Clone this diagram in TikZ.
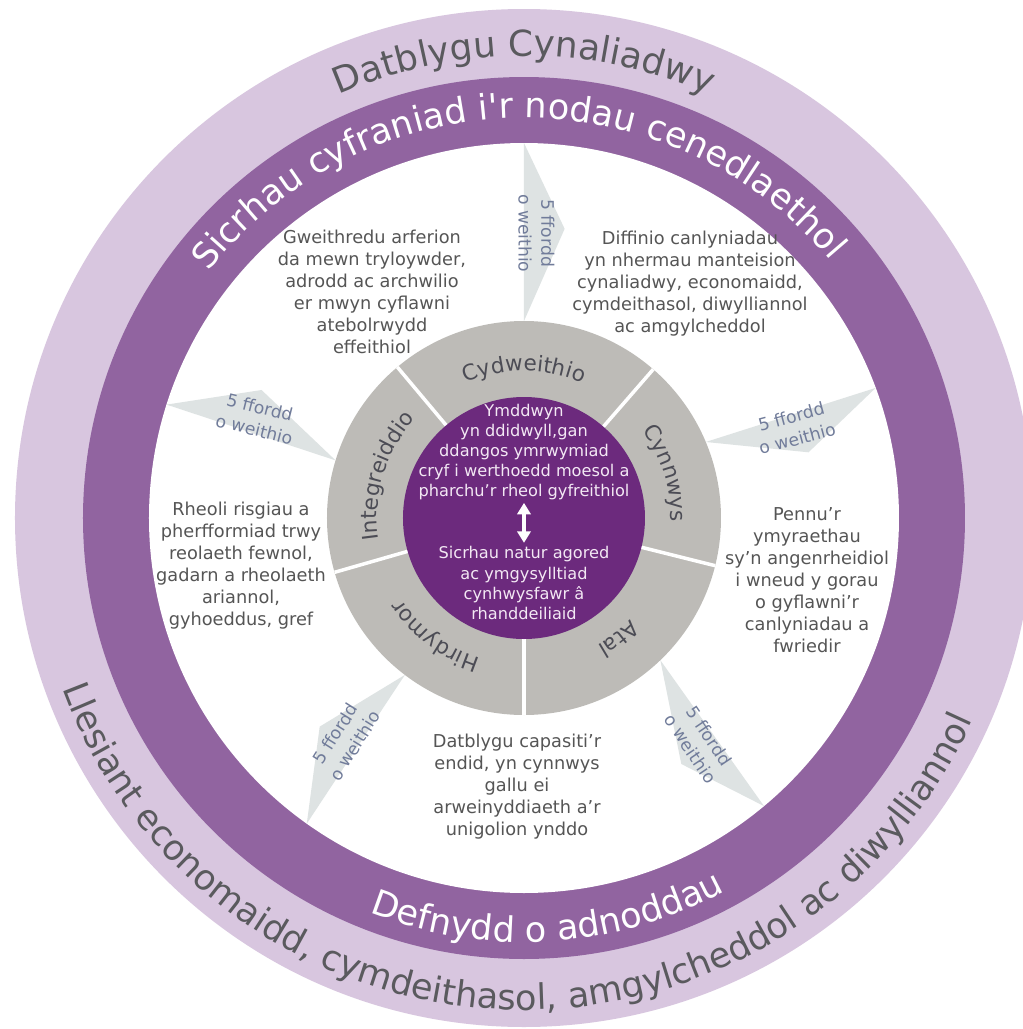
\documentclass[tikz,border=0pt]{standalone}
\usepackage{fontspec}
\setmainfont{DejaVu Sans}
\newfontfamily\ringfont{DejaVu Sans}
\usepackage{tikz}
\usetikzlibrary{arrows.meta,decorations.text}

\definecolor{lilacpale}{HTML}{D8C6DF}
\definecolor{lilacmid}{HTML}{9164A0}
\definecolor{plumdark}{HTML}{6C2A7D}
\definecolor{stonegrey}{HTML}{BDBBB7}
\definecolor{waybg}{HTML}{DEE3E3}
\definecolor{waytext}{HTML}{717C9A}
\definecolor{bodygrey}{HTML}{555555}
\definecolor{ringgrey}{HTML}{5A5A5E}
\definecolor{seggrey}{HTML}{4C4C55}
\definecolor{plumtext}{HTML}{F3E8F4}

\tikzset{
  bodytext/.style={align=center, text=bodygrey, inner sep=0pt, font=\fontsize{10.1}{12.5}\selectfont},
  midtext/.style={align=center, text=plumtext, inner sep=0pt, font=\fontsize{9.2}{11.4}\selectfont},
  waytxt/.style={align=center, text=waytext, inner sep=0pt, font=\fontsize{9.8}{13}\selectfont},
  twoway/.style={white!95!plumtext, line width=2.2pt, {Triangle[length=6.5pt,width=7.5pt]}-{Triangle[length=6.5pt,width=7.5pt]}}
}

\begin{document}
\begin{tikzpicture}[x=0.02cm, y=0.02cm]
\useasboundingbox (-524,-511) rectangle (499,518);
\fill[white] (-524,-511) rectangle (499,518);
\fill[lilacpale] (0,0) circle (509);
\fill[lilacmid] (0,0) circle (441);
\fill[white] (0,0) circle (375);
% 5 ffordd o weithio
\foreach \o/\i/\t/\r [count=\k] in {90/90/82/-90, 162.4/163/154/-14, 20.3/22.7/13/15, 234.6/232.8/225.6/58, 309.8/313.8/302.6/-56} {
  \fill[waybg] (\o:375) -- (\t:292) -- (\i:197) -- cycle;
  \node[waytxt, rotate=\r] (ffordd\k) at ({\t+5.5}:285) {5 ffordd\\o weithio};
}
% grey ring
\fill[stonegrey] (0,0) circle (197);
\foreach \s in {49,130,196,270,346}
  \draw[white, line width=2pt] (\s:100) -- (\s:197);
\fill[plumdark] (0,0) circle (121);
\path[decorate, decoration={text along path, text align=center, text={|\fontsize{12.3}{14}\selectfont\color{seggrey}|Cydweithio}}]
  (140:147) arc[start angle=140, end angle=40, radius=147];
\path[decorate, decoration={text along path, text align=center, text={|\fontsize{12.3}{14}\selectfont\color{seggrey}|Integreiddio}}]
  (213:147) arc[start angle=213, end angle=113, radius=147];
\path[decorate, decoration={text along path, text align=center, text={|\fontsize{12.3}{14}\selectfont\color{seggrey}|Hirdymor}}]
  (283:147) arc[start angle=283, end angle=183, radius=147];
\path[decorate, decoration={text along path, text align=center, text={|\fontsize{12.3}{14}\selectfont\color{seggrey}|Atal}}]
  (358:147) arc[start angle=358, end angle=258, radius=147];
\path[decorate, decoration={text along path, text align=center, text={|\fontsize{12.3}{14}\selectfont\color{seggrey}|Cynnwys}}]
  (67.5:147) arc[start angle=67.5, end angle=-32.5, radius=147];
% centre
\node[midtext] (ethos) at (0,66) {Ymddwyn\\yn ddidwyll,gan\\ddangos ymrwymiad\\cryf i werthoedd moesol a\\pharchu’r rheol gyfreithiol};
\node[midtext] (agored) at (0,-65) {Sicrhau natur agored\\ac ymgysylltiad\\cynhwysfawr â\\rhanddeiliaid};
\draw[twoway, shorten <=1.5pt, shorten >=2pt] (ethos) -- (agored);
% texts in the white ring
\node[bodytext] (tryloyw) at (-152,226) {Gweithredu arferion\\da mewn tryloywder,\\adrodd ac archwilio\\er mwyn cyflawni\\atebolrwydd\\effeithiol};
\node[bodytext] (canlyn) at (166,234) {Diffinio canlyniadau\\yn nhermau manteision\\cynaliadwy, economaidd,\\cymdeithasol, diwylliannol\\ac amgylcheddol};
\node[bodytext] (risg) at (-283,-48) {Rheoli risgiau a\\pherfformiad trwy\\reolaeth fewnol,\\gadarn a rheolaeth\\ariannol,\\gyhoeddus, gref};
\node[bodytext] (ymyrr) at (283,-62) {Pennu’r\\ymyraethau\\sy’n angenrheidiol\\i wneud y gorau\\o gyflawni’r\\canlyniadau a\\fwriedir};
\node[bodytext] (capasiti) at (-7,-269) {Datblygu capasiti’r\\endid, yn cynnwys\\gallu ei\\arweinyddiaeth a’r\\unigolion ynddo};
% ring titles
\path[decorate, decoration={text along path, text align=center, text={|\ringfont\fontsize{20}{24}\selectfont\color{white}|Sicrhau cyfraniad i'r nodau cenedlaethol}}]
  (161:400) arc[start angle=161, end angle=21, radius=400];
\path[decorate, decoration={text along path, text align=center, text={|\ringfont\fontsize{20}{24}\selectfont\color{white}|Defnydd o adnoddau}}]
  (203.5:424) arc[start angle=203.5, end angle=343.5, radius=424];
\path[decorate, decoration={text along path, text align=center, text={|\ringfont\fontsize{20.4}{24}\selectfont\color{ringgrey}|Datblygu Cynaliadwy}}]
  (150:462) arc[start angle=150, end angle=30, radius=462];
\path[decorate, decoration={text along path, text align=center, text={|\ringfont\fontsize{20}{24}\selectfont\color{ringgrey}|Llesiant economaidd, cymdeithasol, amgylcheddol ac diwylliannol}}]
  (183:492) arc[start angle=183, end angle=353, radius=492];
\end{tikzpicture}
\end{document}
